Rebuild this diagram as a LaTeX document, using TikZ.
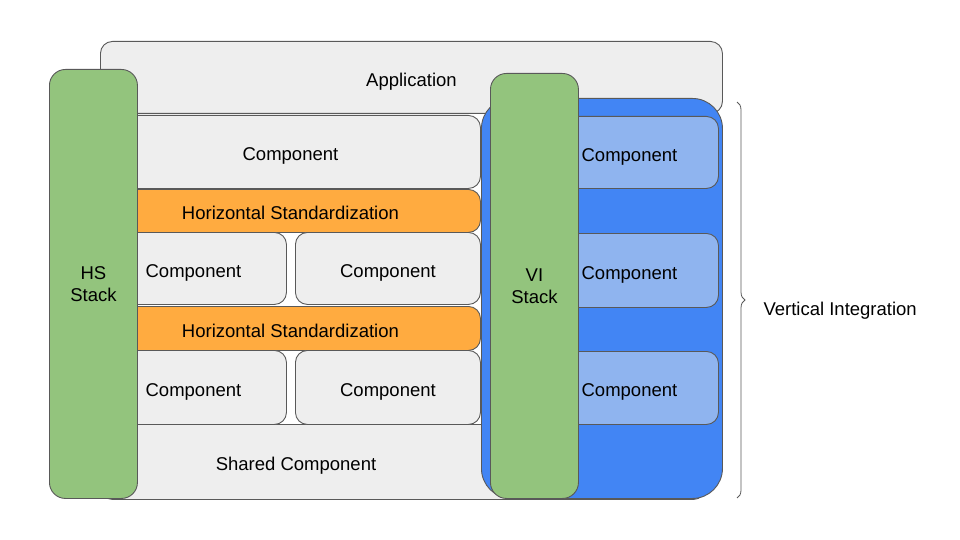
\documentclass[tikz,border=0pt]{standalone}
\usepackage{fontspec}
\setmainfont{Liberation Sans}
\usepackage{xcolor}
\usetikzlibrary{positioning,decorations.pathreplacing}

\definecolor{edgegray}{HTML}{595959}
\definecolor{boxgray}{HTML}{EEEEEE}
\definecolor{stdorange}{HTML}{FFAB40}
\definecolor{stackgreen}{HTML}{93C47D}
\definecolor{viblue}{HTML}{4285F4}
\definecolor{vilight}{HTML}{8FB4EF}

\tikzset{
  base/.style={draw=edgegray, line width=0.9pt, inner sep=0pt, anchor=north west,
    font=\fontsize{18.5}{22}\selectfont},
  part/.style={base, fill=boxgray, rounded corners=12pt, text height=17.5pt, text depth=0pt},
  stdbar/.style={base, fill=stdorange, rounded corners=12pt, text height=17.5pt, text depth=0pt},
  vipart/.style={base, fill=vilight, rounded corners=12pt, text height=17.5pt, text depth=0pt},
  stack/.style={base, fill=stackgreen, rounded corners=16pt, align=center},
}

\begin{document}
\begin{tikzpicture}[x=1pt, y=-1pt]
    \useasboundingbox (0,0) rectangle (960,540);

    % back layers
    \node[part, minimum width=622pt, minimum height=72pt] (app) at (100,41) {Application};
    \node[part, minimum width=605pt, minimum height=75pt] (shared) at (100,424) {};
    \node[font=\fontsize{18.5}{22}\selectfont] (sharedText) at (296,466) {Shared Component};

    % horizontal side
    \node[part, minimum width=380pt, minimum height=73pt] (compTop) at (100,115) {Component};
    \node[stdbar, minimum width=380pt, minimum height=43pt] (hsA) at (100,189) {Horizontal Standardization};
    \node[part, minimum width=186pt, minimum height=72pt] (compA1) at (100,232) {Component};
    \node[part, minimum width=185pt, minimum height=72pt] (compA2) at (295,232) {Component};
    \node[stdbar, minimum width=380pt, minimum height=44pt] (hsB) at (100,306) {Horizontal Standardization};
    \node[part, minimum width=186pt, minimum height=74pt] (compB1) at (100,350) {Component};
    \node[part, minimum width=185pt, minimum height=74pt] (compB2) at (295,350) {Component};

    % vertical side
    \node[base, fill=viblue, rounded corners=30pt, minimum width=241pt, minimum height=400pt] (viBox) at (481,98) {};
    \node[vipart, minimum width=178pt, minimum height=72pt] (viCompA) at (540,116) {Component};
    \node[vipart, minimum width=178pt, minimum height=74pt] (viCompB) at (540,233) {Component};
    \node[vipart, minimum width=178pt, minimum height=73pt] (viCompC) at (540,351) {Component};

    % stacks
    \node[stack, minimum width=88pt, minimum height=429pt] (hsStack) at (49,69) {HS\\Stack};
    \node[stack, minimum width=88pt, minimum height=425pt] (viStack) at (490,73) {VI\\Stack};

    % brace
    \coordinate (braceTop) at (737,102);
    \coordinate (braceBot) at (737,498);
    \draw[edgegray, line width=0.8pt, decorate, decoration={brace, amplitude=8pt}] (braceTop) -- (braceBot);
    \node[anchor=west, font=\fontsize{18.5}{22}\selectfont] (viLabel) at (760,311) {Vertical Integration};
\end{tikzpicture}
\end{document}
